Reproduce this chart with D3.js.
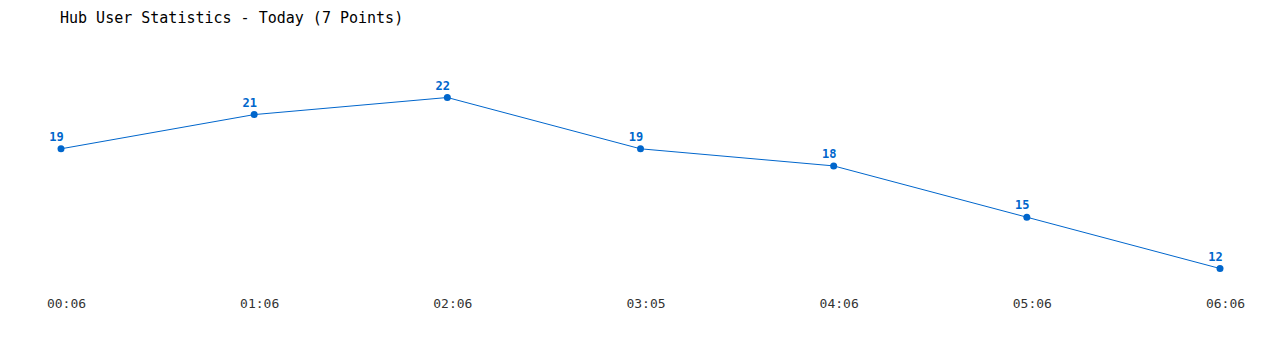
<!DOCTYPE html>
<html>
<head>
<meta charset="utf-8">
<script src="https://cdn.jsdelivr.net/npm/d3@7"></script>
<style>
  body { margin: 0; background: #fff; }
  text { font-family: "DejaVu Sans Mono", monospace; }
</style>
</head>
<body>
<div id="chart"></div>
<script>
// data
var times = ["00:06", "01:06", "02:06", "03:05", "04:06", "05:06", "06:06"];
var users = [19, 21, 22, 19, 18, 15, 12];

var width = 1280, height = 350;
var margin = {top: 97.5, right: 60, bottom: 81.5, left: 61};

var svg = d3.select("#chart")
    .append("svg")
        .attr("width", width)
        .attr("height", height);

// title
svg.append("text")
    .attr("x", 60)
    .attr("y", 23)
    .style("font-size", "15px")
    .style("fill", "#000")
    .text("Hub User Statistics - Today (7 Points)");

var xScale = d3.scalePoint()
    .domain(times)
    .range([margin.left, width - margin.right]);

var yScale = d3.scaleLinear()
    .domain([d3.min(users), d3.max(users)])
    .range([height - margin.bottom, margin.top]);

var data = times.map(function(t, i) { return {t: t, v: users[i]}; });

// x axis labels (no line, no ticks), drawn a bit right of the points
var xAxis = svg.append("g")
    .attr("transform", "translate(5," + 299 + ")")
    .call(d3.axisBottom(xScale).tickSize(0).tickPadding(0));
xAxis.select(".domain").remove();
xAxis.selectAll("text")
    .style("font-family", "'DejaVu Sans Mono', monospace")
    .style("font-size", "13px")
    .style("fill", "#333");

var line = d3.line()
    .x(d => xScale(d.t))
    .y(d => yScale(d.v));

svg.append("path")
    .datum(data)
    .attr("d", line)
    .style("fill", "none")
    .style("stroke", "#0066cc")
    .style("stroke-width", "1px");

svg.selectAll("circle.pt")
    .data(data)
    .enter()
    .append("circle")
    .attr("class", "pt")
    .attr("cx", d => xScale(d.t))
    .attr("cy", d => yScale(d.v))
    .attr("r", 3.5)
    .style("fill", "#0066cc");

// value labels, slightly left of each point
svg.selectAll("text.val")
    .data(data)
    .enter()
    .append("text")
    .attr("class", "val")
    .attr("x", d => xScale(d.t) - 4.5)
    .attr("y", d => yScale(d.v) - 8)
    .style("text-anchor", "middle")
    .style("font-size", "12px")
    .style("font-weight", "bold")
    .style("fill", "#0066cc")
    .text(d => d.v);
</script>
</body>
</html>
